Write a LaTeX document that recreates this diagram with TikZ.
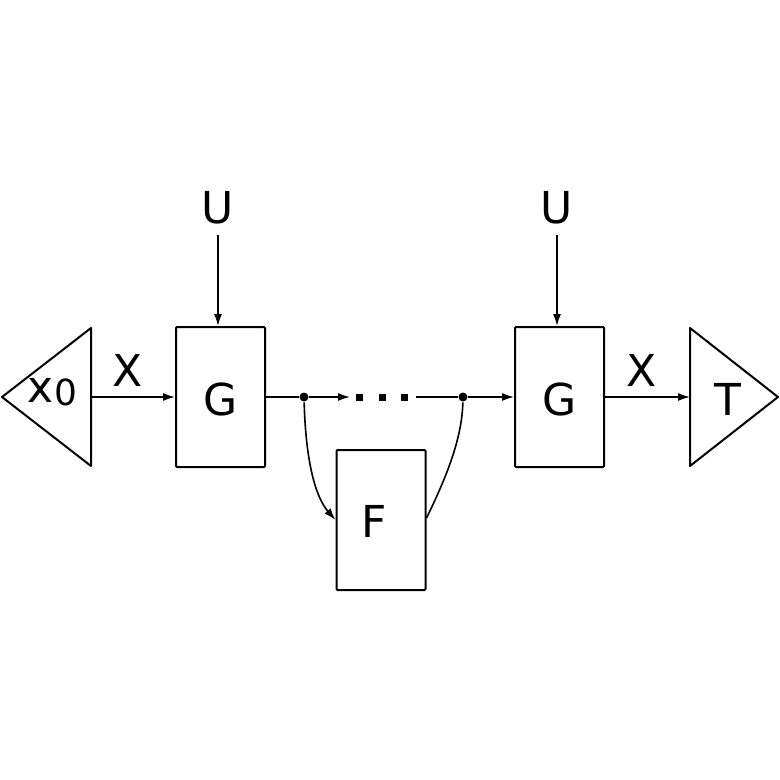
\documentclass[tikz,border=0pt]{standalone}
\usepackage{fontspec}
\setmainfont{DejaVu Sans}
\usetikzlibrary{arrows.meta}
\begin{document}
\begin{tikzpicture}[x=1pt,y=-1pt,line width=1.6pt,
  box/.style={draw,line width=2pt,rounded corners=1pt,minimum width=89pt,minimum height=140pt,inner sep=0pt},
  lab/.style={font=\fontsize{44}{44}\selectfont,inner sep=0pt},
  arr/.style={-{Latex[length=12pt,width=8pt]}},
  dot/.style={circle,fill,inner sep=0pt,minimum size=9pt}]
\useasboundingbox (0,0) rectangle (780,780);
\node[box] (g1) at (220.5,397) {};
\node[lab] at (220.5,399) {G};
\node[box] (g2) at (559.5,397) {};
\node[lab] at (559.5,399) {G};
\node[box] (f) at (381,520) {};
\node[lab] at (374,521) {F};
\draw[line width=2pt,line join=round] (91,328) -- (2,397) -- (91,466) -- cycle;
\node[lab] (x0) at (52,392) {x\kern1pt\raisebox{-3pt}{\fontsize{36}{36}\selectfont 0}};
\draw[line width=2pt,line join=round] (690,328) -- (778,397) -- (690,466) -- cycle;
\node[lab] at (728,399) {T};
\coordinate (tl) at (91,397);
\coordinate (tr) at (690,397);
\node[lab] (u1) at (218,208) {U};
\node[lab] (u2) at (557,208) {U};
\node[lab] at (128,370) {X};
\node[lab] at (642,370) {X};
\node[dot] (d1) at (304,397) {};
\node[dot] (d2) at (463,397) {};
\coordinate (e1) at (350,397);
\coordinate (e2) at (416,397);
\foreach \xx in {359,382,404} \fill (\xx-3.5,393.5) rectangle (\xx+3.5,400.5);
\draw[arr] (218,235) -- (g1.north -| 218,0);
\draw[arr] (557,235) -- (g2.north -| 557,0);
\draw[arr] (tl) -- (g1.west);
\draw (g1.east) -- (d1);
\draw[arr] (d1) -- (e1);
\draw (e2) -- (d2);
\draw[arr] (d2) -- (g2.west);
\draw[arr] (g2.east) -- (tr);
\draw[arr] (d1) .. controls (306,470) and (318,500) .. (f.west |- 0,520);
\draw (d2) .. controls (462,440) and (445,480) .. (f.east |- 0,518);
\end{tikzpicture}
\end{document}
